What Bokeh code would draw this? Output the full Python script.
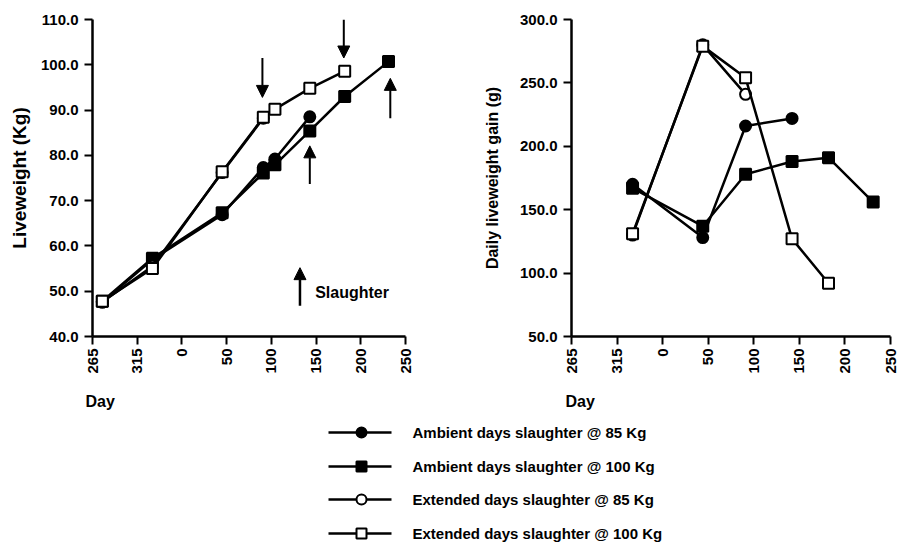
from bokeh.plotting import figure
from bokeh.models import Range1d, FixedTicker, Label, Arrow, NormalHead
from bokeh.layouts import column, row
from bokeh.embed import file_html
from bokeh.resources import INLINE
from bokeh.core.properties import value
import math

# ---------------- data ----------------
tick_days = [265, 315, 0, 50, 100, 150, 200, 250]

# Liveweight (kg) panel
lw_days = [276, 332, 45, 91, 104, 143, 182, 231]
amb85_lw = [47.6, 57.0, 66.9, 77.3, 79.2, 88.5]
amb100_lw = [47.8, 57.3, 67.3, 76.1, 77.9, 85.4, 93.0, 100.7]
ext85_lw = [47.6, 55.5, 76.2, 88.2]
ext100_lw = [47.8, 55.0, 76.4, 88.4, 90.2, 94.8, 98.6]
lw_ticks = [40, 50, 60, 70, 80, 90, 100, 110]

# Daily liveweight gain (g) panel
g_days = [332, 44, 91, 142, 182, 231]
amb85_g = [170, 128, 216, 222]
amb100_g = [167, 137, 178, 188, 191, 156]
ext85_g = [130, 280, 241]
ext100_g = [131, 279, 254, 127, 92]
g_ticks = [50, 100, 150, 200, 250, 300]

# slaughter arrows (day, from kg, to kg)
slaughter_down = [(90, 101.5, 92.8), (181, 110.0, 101.5)]
slaughter_up = [(143, 73.7, 82.1), (233, 88.2, 97.0)]

series_names = [
    "Ambient days  slaughter @ 85 Kg",
    "Ambient days  slaughter @ 100 Kg",
    "Extended  days  slaughter @ 85 Kg",
    "Extended days  slaughter @ 100 Kg",
]
series_markers = ["circle", "square", "circle", "square"]
series_fill = ["black", "black", "white", "white"]

FONT = "Liberation Sans"


def pos(d):
    return d if d >= 265 else d + 365


tick_pos = [pos(d) for d in tick_days]


def style(p, yticks, ytitle, ysize, ystandoff):
    p.xgrid.visible = False
    p.ygrid.visible = False
    p.outline_line_color = None
    for ax in (p.xaxis[0], p.yaxis[0]):
        ax.axis_line_width = 2.5
        ax.axis_line_color = "black"
        ax.major_tick_line_width = 2
        ax.major_tick_line_color = "black"
        ax.major_tick_out = 8
        ax.major_tick_in = 0
        ax.minor_tick_line_color = None
        ax.major_label_text_font = FONT
        ax.major_label_text_font_size = "15px"
        ax.major_label_text_font_style = "bold"
        ax.major_label_text_color = "black"
    p.xaxis[0].ticker = FixedTicker(ticks=tick_pos)
    p.xaxis[0].major_label_overrides = {t: str(d) for t, d in zip(tick_pos, tick_days)}
    p.xaxis[0].major_label_orientation = math.pi / 2
    p.xaxis[0].major_label_standoff = 4
    p.yaxis[0].ticker = FixedTicker(ticks=yticks)
    p.yaxis[0].major_label_overrides = {t: f"{t:.1f}" for t in yticks}
    p.yaxis[0].major_label_standoff = 6
    p.yaxis[0].axis_label = ytitle
    p.yaxis[0].axis_label_text_font = FONT
    p.yaxis[0].axis_label_text_font_size = ysize
    p.yaxis[0].axis_label_text_font_style = "bold"
    p.yaxis[0].axis_label_text_color = "black"
    p.yaxis[0].axis_label_standoff = ystandoff


def draw_series(p, days, vals, marker, fill):
    xs = [pos(d) for d in days[:len(vals)]]
    p.line(xs, vals, line_color="black", line_width=2.5)
    p.scatter(xs, vals, marker=marker, size=11, fill_color=fill,
              line_color="black", line_width=2)


# ---------------- left panel ----------------
p1 = figure(width=440, height=392, x_range=Range1d(265, 615), y_range=Range1d(40, 110),
            toolbar_location=None, output_backend="svg",
            min_border_left=92, min_border_right=35, min_border_top=18, min_border_bottom=56)
style(p1, lw_ticks, "Liveweight (Kg)", "19px", 8)
for vals, m, f in zip([amb85_lw, amb100_lw, ext85_lw, ext100_lw], series_markers, series_fill):
    draw_series(p1, lw_days, vals, m, f)

for d, y0, y1 in slaughter_down + slaughter_up:
    p1.add_layout(Arrow(end=NormalHead(size=12, fill_color="black", line_color="black"),
                        x_start=pos(d), y_start=y0, x_end=pos(d), y_end=y1,
                        line_width=2, line_color="black"))
p1.add_layout(Arrow(end=NormalHead(size=12, fill_color="black", line_color="black"),
                    x_start=497, y_start=46.8, x_end=497, y_end=55.2,
                    line_width=2.5, line_color="black"))
p1.add_layout(Label(x=514, y=49.7, text="Slaughter", text_font=FONT, text_font_size="16px",
                    text_font_style="bold", text_baseline="middle", text_align="left",
                    text_color="black"))

# ---------------- right panel ----------------
p2 = figure(width=458, height=392, x_range=Range1d(265, 615), y_range=Range1d(50, 300),
            toolbar_location=None, output_backend="svg",
            min_border_left=131, min_border_right=8, min_border_top=19, min_border_bottom=55)
style(p2, g_ticks, "Daily liveweight gain (g)", "16px", 16)
for vals, m, f in zip([amb85_g, amb100_g, ext85_g, ext100_g], series_markers, series_fill):
    draw_series(p2, g_days, vals, m, f)

# ---------------- legend + "Day" labels ----------------
p3 = figure(width=898, height=166, x_range=Range1d(0, 898), y_range=Range1d(558, 392),
            toolbar_location=None, output_backend="svg", min_border=0)
p3.axis.visible = False
p3.xgrid.visible = False
p3.ygrid.visible = False
p3.outline_line_color = None
p3.text(x=[85, 565], y=[401, 401], text=["Day", "Day"], text_font=value(FONT),
        text_font_size="16px", text_font_style="bold", text_baseline="middle",
        text_align="left", text_color="black")
rows_y = [432, 466, 499, 533]
for yy, m, f in zip(rows_y, series_markers, series_fill):
    p3.line([328, 391], [yy, yy], line_color="black", line_width=2.5)
    p3.scatter([361], [yy], marker=m, size=10, fill_color=f, line_color="black", line_width=2)
p3.text(x=[412] * 4, y=rows_y, text=series_names, text_font=value(FONT),
        text_font_size="15px", text_font_style="bold", text_baseline="middle",
        text_align="left", text_color="black")

layout = column(row(p1, p2, spacing=0), p3, spacing=0)
open("out.html", "w").write(file_html(layout, INLINE))
